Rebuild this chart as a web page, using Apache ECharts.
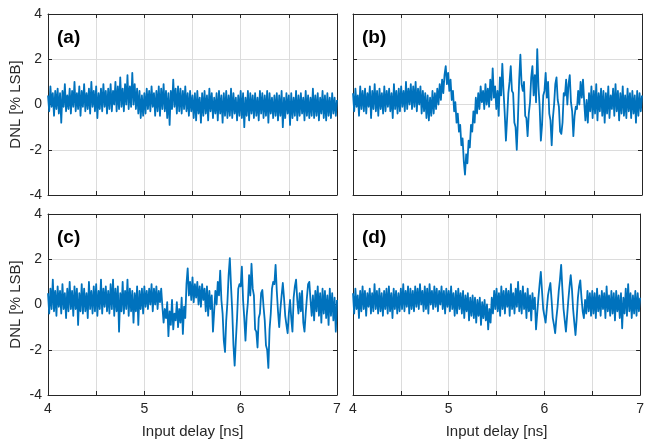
<!DOCTYPE html>
<html><head><meta charset="utf-8">
<script src="https://cdn.jsdelivr.net/npm/echarts@6/dist/echarts.min.js"></script>
<style>html,body{margin:0;padding:0;background:#fff}#c{width:647px;height:444px}</style>
</head><body><div id="c"></div>
<script>
// Input delay range [ns]
const xStart = 4, xEnd = 7;
const xTicks = [4, 5, 6, 7];
const yTicks = [-4, -2, 0, 2, 4];
const panelLabels = ['(a)', '(b)', '(c)', '(d)'];

// DNL [% LSB], evenly spaced over 4..7 ns
const dnlA = [
0.4,-0.3,0.8,-0.1,0.5,-0.5,0.6,-0.2,0.7,-0.4,
0.5,-0.8,0.6,-0.1,0.9,-0.3,0.4,-0.2,0.7,-0.4,
0.6,-0.1,1.0,-0.3,0.5,-0.2,0.8,-0.5,0.6,-0.1,
0.9,-0.3,0.5,-0.2,0.7,-0.4,1.0,-0.1,0.6,-0.3,
0.8,-0.6,0.5,-0.2,0.7,-0.3,0.9,-0.1,0.6,-0.4,
0.7,-0.2,0.9,-0.3,0.6,0.0,1.0,-0.3,0.8,-0.2,
1.2,-0.1,0.7,-0.3,0.9,0.0,1.3,-0.2,0.8,-0.1,
1.4,0.0,0.9,-0.2,0.7,-0.4,0.6,-0.6,0.4,-0.5,
0.5,-0.4,0.7,-0.2,0.6,-0.3,0.8,-0.1,0.5,-0.5,
0.6,-0.3,0.8,-0.5,0.7,-0.2,0.9,-0.3,0.6,-0.6,
0.5,-0.9,0.6,-0.2,1.1,-0.1,0.7,-0.4,0.8,-0.3,
0.7,-0.4,0.6,-0.2,0.8,-0.3,0.5,-0.5,0.6,-0.3,
0.4,-0.6,0.5,-0.7,0.6,-0.4,0.3,-0.8,0.5,-0.5,
0.6,-0.4,0.4,-0.7,0.7,-0.3,0.5,-0.6,0.3,-0.4,
0.5,-0.7,0.6,-0.4,0.4,-0.8,0.5,-0.5,0.6,-0.6,
0.4,-0.5,0.7,-0.6,0.5,-0.4,0.3,-0.7,0.4,-0.5,
0.6,-0.6,0.5,-1.0,0.3,-0.5,0.6,-0.7,0.5,-0.4,
0.4,-0.6,0.5,-0.5,0.3,-0.7,0.6,-0.4,0.5,-0.6,
0.4,-0.5,0.6,-0.8,0.5,-0.4,0.3,-0.6,0.4,-0.5,
0.5,-0.7,0.4,-0.5,0.6,-1.0,0.3,-0.6,0.5,-0.4,
0.4,-0.9,0.5,-0.6,0.3,-0.5,0.6,-0.7,0.4,-0.5,
0.5,-0.4,0.3,-0.7,0.6,-0.5,0.4,-0.6,0.3,-0.5,
0.7,-0.6,0.4,-0.5,0.5,-0.7,0.3,-0.4,0.6,-0.6,
0.4,-0.7,0.5,-0.5,0.3,-0.6,0.5,-0.4,0.3,-0.5,0.2];

const dnlB = [
0.5,-0.3,0.7,-0.1,0.4,-0.5,0.8,-0.2,0.6,-0.3,
0.7,-0.4,0.5,-0.1,0.8,-0.6,0.6,-0.2,0.9,-0.3,
0.6,-0.5,0.7,-0.2,0.5,-0.4,0.8,-0.3,0.6,-0.1,
0.7,-0.3,0.5,-0.6,0.9,-0.2,0.6,-0.4,0.7,-0.3,
0.8,-0.1,0.6,-0.3,1.0,-0.2,0.7,0.0,0.9,-0.2,
0.8,-0.1,1.0,-0.3,0.7,0.0,0.8,-0.4,0.6,-0.3,
0.5,-0.6,0.4,-0.7,0.3,-0.5,0.6,-0.4,0.5,-0.2,
0.7,0.0,0.9,0.2,1.1,0.5,1.3,1.7,0.9,1.4,
0.6,1.1,0.2,0.6,-0.3,0.1,-0.8,-0.4,-1.2,-0.9,
-1.8,-1.5,-2.5,-3.1,-2.2,-2.6,-1.6,-1.9,-0.9,-1.2,
-0.3,-0.8,0.3,-0.4,0.5,-0.2,0.8,0.1,0.6,-0.2,
0.9,0.0,0.7,-0.1,1.1,0.2,1.6,0.3,0.8,-0.2,
0.6,-0.5,1.2,0.4,1.8,0.6,-0.4,-1.6,-0.6,0.5,
1.0,1.7,0.6,0.5,-0.8,-1.0,-2.0,-0.6,1.1,2.2,
0.9,0.6,1.0,-0.5,-0.6,-1.4,-0.4,0.1,1.2,1.7,
0.4,1.3,0.1,2.45,0.8,-0.1,-1.6,-0.9,0.4,0.6,
1.4,0.3,1.0,-0.4,-0.7,-1.8,-0.6,0.0,0.9,1.2,
0.2,-0.1,-1.2,-1.3,-0.8,0.5,0.4,1.1,0.0,0.9,
1.3,0.1,-0.3,-1.4,-0.5,-0.1,-0.2,0.6,0.0,1.0,
0.3,1.1,0.1,-0.7,0.2,-0.8,0.5,-0.3,0.8,-0.6,
0.6,-0.4,0.9,-0.7,0.5,-0.3,0.7,-0.5,0.6,-0.8,
0.5,-0.4,0.8,-0.6,0.4,-0.2,0.7,-0.5,0.9,-0.3,
0.6,-0.7,0.5,-0.4,0.8,-0.5,0.4,-0.6,0.7,-0.3,
0.5,-0.6,0.6,-0.4,0.4,-0.8,0.6,-0.5,0.5,-0.3,0.4];

const dnlC = [
0.5,-0.4,0.7,-0.2,1.1,-0.3,0.6,-0.5,0.8,-0.1,
0.6,-0.4,0.9,-0.2,0.5,-0.6,0.7,-0.3,1.0,-0.2,
0.6,-0.5,0.8,-0.2,0.7,-0.9,0.5,-0.3,0.9,-0.4,
0.7,-0.3,0.5,-0.6,1.0,-0.2,0.6,-0.4,0.8,-0.3,
0.9,-0.5,0.6,-0.2,1.1,-0.4,0.7,-0.1,0.8,-0.3,
0.6,-0.4,0.9,-0.2,1.1,-0.5,0.7,-0.3,0.8,-1.2,
0.5,-0.3,1.0,-0.4,0.6,-0.2,1.1,-0.5,0.7,-0.3,
0.6,-0.8,0.5,-0.3,0.8,-0.9,0.6,-0.2,0.7,-0.4,
0.8,-0.1,0.6,-0.2,0.7,0.0,0.9,-0.3,0.7,0.0,
0.8,-0.2,0.6,0.1,0.7,-0.1,-0.8,-0.2,-0.6,0.1,
-1.4,-0.3,-0.9,0.2,-1.1,-0.4,-0.7,0.1,-1.0,-0.2,
-0.8,0.3,-1.3,-0.1,-0.6,0.9,1.6,0.4,1.0,0.2,
1.2,0.1,0.9,0.3,1.0,0.0,0.8,-0.1,0.9,0.2,
0.7,-0.3,0.8,-0.5,0.6,-0.2,0.4,-1.2,-0.3,0.6,
0.0,1.0,0.4,1.5,0.2,-0.4,-1.6,-2.1,-0.7,0.1,
1.3,2.05,0.8,-0.3,-1.8,-2.7,-1.6,-0.6,0.7,0.9,
0.8,1.67,0.2,-0.6,-1.6,-0.5,0.1,1.3,0.4,1.8,
0.7,0.4,-1.1,-1.2,-1.9,-0.6,-0.4,0.5,0.64,-0.1,
-0.7,-1.8,-2.0,-2.8,-1.1,-0.4,0.7,1.0,0.9,1.75,
0.6,-0.3,-1.0,-0.2,0.4,0.95,0.3,-0.5,-0.9,-1.27,
-0.4,0.2,-0.6,-1.2,0.3,0.8,1.1,0.2,-0.4,0.5,
-0.3,0.6,-0.8,-1.2,-0.4,0.3,0.9,1.0,0.2,-0.5,
0.4,-0.7,0.6,-0.3,0.8,-0.5,0.5,-0.8,0.7,-0.4,
0.6,-0.6,0.4,-0.9,0.7,-0.5,0.5,-0.7,0.3,-1.2,0.2];

const dnlD = [
0.5,-0.4,0.7,-0.2,0.4,-0.6,0.6,-0.3,0.8,-0.2,
0.6,-0.5,0.5,-0.1,0.7,-0.4,0.5,-0.3,0.9,-0.2,
0.6,-0.4,0.7,-0.3,0.5,-0.5,0.6,-0.2,0.7,-0.4,
0.8,-0.3,0.5,-0.6,0.7,-0.2,0.6,-0.4,0.5,-0.3,
0.7,-0.2,0.9,-0.3,0.6,-0.1,0.8,-0.4,0.7,-0.2,
0.6,-0.3,0.8,-0.1,0.7,-0.2,0.9,0.0,0.6,-0.3,
0.8,-0.2,0.7,-0.4,0.9,0.0,0.6,-0.2,0.8,-0.1,
0.7,-0.3,0.6,0.0,0.8,-0.2,0.6,-0.4,0.7,-0.1,
0.6,-0.3,0.8,-0.2,0.5,-0.5,0.6,-0.4,0.7,-0.2,
0.5,-0.4,0.6,-0.6,0.4,-0.3,0.5,-0.7,0.3,-0.5,
0.4,-0.6,0.3,-0.8,0.2,-0.5,0.3,-0.9,0.1,-0.6,
0.2,-0.7,0.0,-1.1,-0.2,-0.8,0.3,-0.4,0.6,-0.2,
0.7,-0.3,0.5,-0.5,0.8,-0.2,0.6,-0.4,0.7,-0.1,
0.6,-0.5,0.9,-0.2,0.5,-0.4,0.7,-0.1,1.0,-0.3,
0.6,-0.4,0.8,-0.2,0.5,-0.6,0.7,-0.3,0.4,-0.7,
0.5,-0.2,0.3,-1.1,-0.4,0.3,0.9,1.44,0.6,-0.2,
-0.5,-0.8,-0.2,0.4,0.7,0.95,0.2,-0.6,-0.9,-1.27,
-0.6,-0.1,0.6,1.1,1.75,0.7,-0.2,-0.7,-1.2,-0.5,
0.2,0.8,1.3,0.7,-0.2,-0.8,-1.35,-0.6,0.3,0.8,
1.07,0.3,-0.3,-0.6,0.2,-0.4,0.6,-0.3,0.5,-0.5,
0.6,-0.4,0.5,-0.6,0.7,-0.3,0.4,-0.5,0.6,-0.2,
0.5,-0.6,0.8,-0.3,0.4,-0.5,0.6,-0.4,0.5,-0.7,
0.6,-0.3,0.4,-0.6,0.5,-1.05,0.3,-0.4,0.7,-0.5,
0.9,-0.3,0.5,-0.6,0.4,-0.4,0.6,-0.5,0.5,-0.3,0.3];

const seriesData = [dnlA, dnlB, dnlC, dnlD];

const FONT = 'Liberation Sans, Arial, Helvetica, sans-serif';
const AX = '#262626';
const GRID = '#dcdcdc';
const COLOR = '#0072BD';

const grids = [
  {left: 48, top: 14, width: 289, height: 181},
  {left: 353, top: 14, width: 289, height: 181},
  {left: 48, top: 214, width: 289, height: 181},
  {left: 353, top: 214, width: 289, height: 181}
];

const xAxes = [], yAxes = [], series = [], graphics = [];
grids.forEach((g, i) => {
  const bottomRow = i >= 2, leftCol = i % 2 === 0;
  const common = {
    type: 'value', gridIndex: i, min: xStart, max: xEnd, interval: 0.5
  };
  const line = {show: true, onZero: false, lineStyle: {color: AX, width: 1}};
  const tick = {show: true, inside: true, length: 4, lineStyle: {color: AX}};
  xAxes.push(Object.assign({}, common, {
    position: 'bottom', axisLine: line, axisTick: tick,
    axisLabel: {show: bottomRow, margin: 7, color: AX, fontSize: 14, fontFamily: FONT,
      formatter: v => xTicks.indexOf(v) >= 0 ? String(v) : ''},
    splitLine: {show: true, lineStyle: {color: GRID, width: 1}},
    name: bottomRow ? 'Input delay [ns]' : '',
    nameLocation: 'middle', nameGap: 29,
    nameTextStyle: {color: AX, fontSize: 15, fontFamily: FONT}
  }));
  xAxes.push(Object.assign({}, common, {
    position: 'top', axisLine: line, axisTick: tick,
    axisLabel: {show: false}, splitLine: {show: false}
  }));
  const ycommon = {type: 'value', gridIndex: i, min: -4, max: 4, interval: 2};
  yAxes.push(Object.assign({}, ycommon, {
    position: 'left', axisLine: line, axisTick: tick,
    axisLabel: {show: leftCol, margin: 6, color: AX, fontSize: 14, fontFamily: FONT,
      formatter: v => yTicks.indexOf(v) >= 0 ? String(v) : ''},
    splitLine: {show: true, lineStyle: {color: GRID, width: 1}},
    name: leftCol ? 'DNL [% LSB]' : '',
    nameLocation: 'middle', nameGap: 25, nameRotate: 90,
    nameTextStyle: {color: AX, fontSize: 15, fontFamily: FONT}
  }));
  yAxes.push(Object.assign({}, ycommon, {
    position: 'right', axisLine: line, axisTick: tick,
    axisLabel: {show: false}, splitLine: {show: false}
  }));
  const vals = seriesData[i];
  const n = vals.length - 1;
  series.push({
    type: 'line', xAxisIndex: 2 * i, yAxisIndex: 2 * i,
    data: vals.map((v, k) => [xStart + (xEnd - xStart) * k / n, v]),
    showSymbol: false, symbol: 'none', sampling: null,
    lineStyle: {color: COLOR, width: 1.8, join: 'round'}, itemStyle: {color: COLOR},
    animation: false, silent: true
  });
  graphics.push({
    type: 'text', left: g.left + 9, top: g.top + 14,
    style: {text: panelLabels[i], fill: '#000', font: 'bold 19px ' + FONT}
  });
});

const chart = echarts.init(document.getElementById('c'), null, {renderer: 'canvas'});
chart.setOption({
  animation: false,
  backgroundColor: '#fff',
  grid: grids,
  xAxis: xAxes,
  yAxis: yAxes,
  series: series,
  graphic: graphics
});
</script></body></html>
